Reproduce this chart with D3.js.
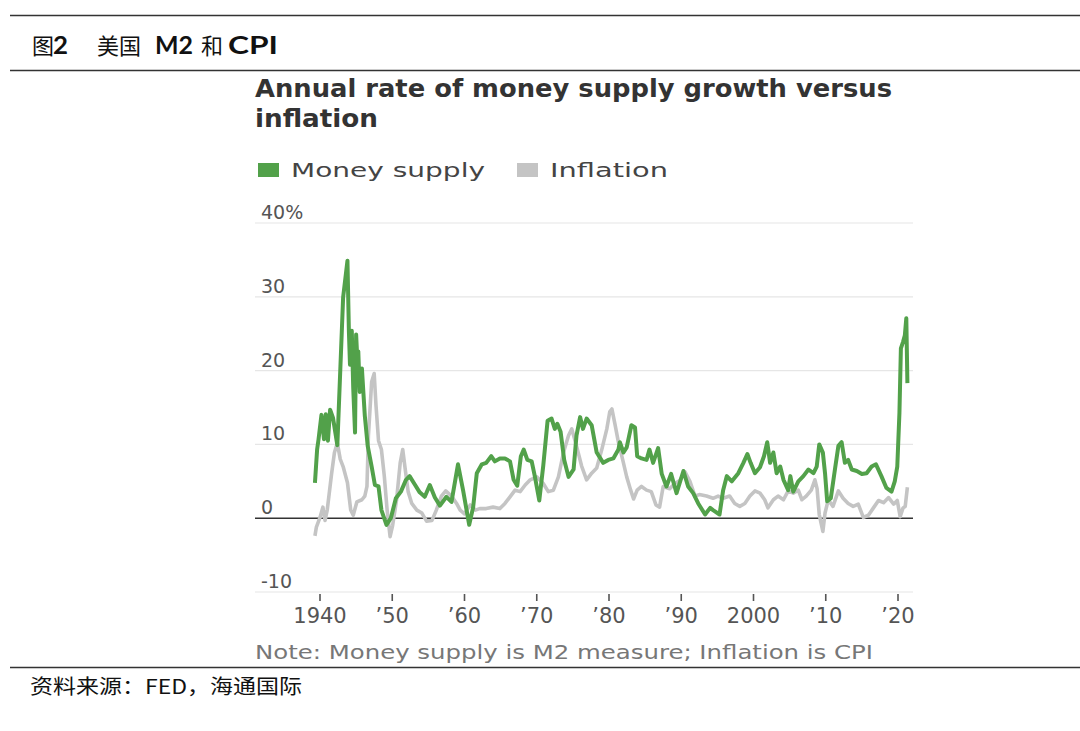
<!DOCTYPE html>
<html>
<head>
<meta charset="utf-8">
<script src="https://cdn.jsdelivr.net/npm/d3@7"></script>
<style>
	body { margin: 0; background: #fff; }
	svg { display: block; }
</style>
</head>
<body>
<svg width="1080" height="731"></svg>
<script>
// money supply (M2) growth, % y/y
var moneyYears = [1939.3, 1939.6, 1939.8, 1940.2, 1940.55, 1940.8, 1941.1, 1941.4, 1941.8, 1942.4,
	1943.2, 1943.8, 1944.0, 1944.15, 1944.4, 1944.6, 1944.85, 1945.0, 1945.2, 1945.3, 1945.5, 1945.8,
	1946.2, 1946.6, 1947.15, 1947.6, 1948.1, 1948.5, 1949.2, 1949.8, 1950.5, 1951.2, 1951.9, 1952.4,
	1953.1, 1953.8, 1954.5, 1955.2, 1955.9, 1956.6, 1957.5, 1958.2, 1959.1, 1959.8, 1960.65, 1961.2,
	1961.7, 1962.4, 1963.0, 1963.7, 1964.2, 1964.9, 1965.6, 1966.3, 1966.8, 1967.3, 1967.8, 1968.2,
	1968.7, 1969.3, 1969.75, 1970.35, 1970.9, 1971.5, 1972.05, 1972.5, 1972.85, 1973.3, 1973.8, 1974.4,
	1975.1, 1975.5, 1976.0, 1976.4, 1976.9, 1977.6, 1978.3, 1979.2, 1979.9, 1980.6, 1981.3, 1981.5,
	1982.0, 1982.45, 1983.1, 1983.6, 1983.9, 1984.5, 1985.2, 1985.6, 1986.1, 1986.8, 1987.3, 1987.95,
	1988.6, 1989.35, 1990.3, 1990.95, 1991.65, 1992.35, 1993.3, 1994.0, 1994.4, 1995.3, 1995.8, 1996.3,
	1997.0, 1997.9, 1998.6, 1999.15, 1999.6, 2000.2, 2000.9, 2001.45, 2001.9, 2002.3, 2002.75, 2003.2,
	2003.7, 2004.15, 2004.8, 2005.1, 2005.5, 2006.2, 2006.9, 2007.6, 2008.3, 2008.75, 2009.1, 2009.6,
	2009.9, 2010.2, 2010.7, 2011.3, 2011.75, 2012.2, 2012.65, 2013.1, 2013.6, 2014.3, 2015.0, 2015.65,
	2016.35, 2016.95, 2017.7, 2018.4, 2019.1, 2019.55, 2019.9, 2020.2, 2020.4, 2020.7, 2020.95, 2021.15,
	2021.3];
var moneyValues = [4.8, 9.3, 10.7, 14.0, 10.7, 14.1, 10.5, 14.7, 13.6, 9.9,
	29.9, 34.9, 25.3, 20.8, 25.4, 17.6, 11.6, 24.9, 20.8, 22.6, 17.1, 20.3,
	13.9, 9.8, 7.0, 4.5, 4.3, 1.1, -0.9, 0.0, 2.7, 3.6, 5.2, 5.7,
	4.6, 3.5, 2.9, 4.5, 2.8, 1.7, 2.9, 2.2, 7.3, 3.8, -0.9, 1.5,
	6.1, 7.3, 7.5, 8.4, 7.7, 8.1, 8.1, 7.7, 5.2, 4.4, 8.4, 9.3,
	7.9, 7.7, 5.6, 2.4, 7.1, 13.2, 13.5, 12.1, 12.8, 11.7, 7.9, 5.6,
	6.6, 11.2, 13.7, 12.1, 13.5, 12.6, 8.9, 7.5, 7.9, 8.1, 9.3, 10.3,
	8.9, 9.6, 12.6, 12.3, 8.4, 8.1, 7.9, 9.3, 7.5, 9.5, 6.0, 4.3,
	6.0, 3.4, 6.4, 4.3, 3.4, 2.0, 0.5, 1.4, 1.1, 0.5, 3.8, 5.7,
	5.0, 6.1, 7.5, 8.7, 7.5, 6.1, 6.9, 8.4, 10.3, 7.5, 8.9, 6.1,
	7.0, 5.2, 3.8, 5.7, 3.6, 5.0, 5.7, 6.6, 6.1, 7.0, 10.0, 8.9,
	6.1, 2.3, 2.7, 6.8, 9.8, 10.3, 7.5, 7.9, 6.6, 6.4, 6.0, 6.1,
	7.0, 7.3, 5.7, 4.1, 3.6, 5.0, 7.0, 14.3, 23.0, 23.9, 24.8, 27.1,
	18.3];

// inflation (CPI), % y/y
var cpiYears = [1939.3, 1939.5, 1940.0, 1940.4, 1940.7, 1941.0, 1941.6, 1942.0, 1942.4, 1942.8,
	1943.2, 1943.8, 1944.25, 1944.6, 1945.1, 1945.8, 1946.2, 1946.5, 1946.7, 1947.15, 1947.5, 1947.75,
	1948.1, 1948.5, 1948.9, 1949.3, 1949.7, 1950.05, 1950.6, 1951.1, 1951.45, 1951.8, 1952.2, 1952.7,
	1953.4, 1954.1, 1954.75, 1955.5, 1956.1, 1956.8, 1957.4, 1958.2, 1958.9, 1959.4, 1960.0, 1960.8,
	1961.5, 1962.1, 1963.0, 1963.95, 1964.9, 1965.6, 1966.3, 1967.0, 1967.7, 1968.4, 1969.1, 1970.0,
	1970.9, 1971.6, 1972.3, 1973.0, 1973.7, 1974.4, 1974.85, 1975.5, 1976.2, 1976.9, 1977.6, 1978.3,
	1979.0, 1979.7, 1980.1, 1980.4, 1980.85, 1981.3, 1981.9, 1982.45, 1983.0, 1983.4, 1983.9, 1984.5,
	1985.2, 1985.85, 1986.5, 1987.0, 1987.5, 1988.4, 1989.1, 1989.8, 1990.5, 1991.2, 1991.9, 1992.5,
	1993.5, 1994.4, 1995.1, 1995.8, 1996.7, 1997.4, 1998.1, 1998.8, 1999.5, 2000.2, 2000.9, 2001.55,
	2002.0, 2002.75, 2003.4, 2004.15, 2004.8, 2005.5, 2006.2, 2006.7, 2007.3, 2008.0, 2008.5, 2008.8,
	2009.1, 2009.6, 2009.9, 2010.35, 2011.0, 2011.75, 2012.4, 2013.1, 2013.8, 2014.5, 2015.2, 2015.9,
	2016.6, 2017.3, 2018.0, 2018.7, 2019.4, 2019.9, 2020.3, 2020.7, 2021.0, 2021.3];
var cpiValues = [-2.4, -1.2, 0.1, 1.5, -0.3, 1.1, 6.0, 8.9, 10.2, 8.0,
	7.0, 4.8, 1.1, 0.4, 2.2, 2.5, 3.0, 4.3, 11.2, 18.5, 19.6, 15.3,
	10.5, 9.3, 5.7, 1.0, -2.5, -1.0, 2.5, 7.5, 9.3, 6.6, 3.6, 2.0,
	1.1, 0.7, -0.4, -0.3, 1.1, 3.0, 3.7, 3.0, 2.0, 1.1, 0.6, 1.8,
	1.1, 1.3, 1.3, 1.5, 1.3, 2.0, 2.9, 3.8, 3.6, 4.5, 5.2, 5.6,
	4.7, 3.6, 3.8, 5.6, 8.9, 11.2, 12.1, 9.8, 7.1, 5.2, 6.1, 6.8,
	9.3, 12.1, 14.4, 14.8, 12.6, 10.3, 7.9, 5.6, 3.8, 2.6, 3.8, 4.3,
	3.8, 3.6, 1.8, 1.5, 4.3, 4.0, 4.7, 5.1, 6.3, 5.0, 3.0, 3.2,
	3.0, 2.7, 3.0, 2.7, 3.0, 2.0, 1.6, 2.0, 3.0, 3.7, 3.4, 2.5,
	1.4, 2.5, 3.0, 2.5, 3.7, 3.4, 3.8, 2.5, 3.0, 3.8, 5.2, 4.0,
	0.5, -1.8, 0.7, 2.5, 1.6, 3.7, 2.7, 2.0, 1.6, 1.9, 0.1, 0.4,
	1.4, 2.4, 2.1, 2.8, 1.9, 2.4, 0.2, 1.4, 1.6, 4.2];

var yTicks = [-10, 0, 10, 20, 30, 40];
var yTickLabels = ["-10", "0", "10", "20", "30", "40%"];
var xTicks = [1940, 1950, 1960, 1970, 1980, 1990, 2000, 2010, 2020];
var xTickLabels = ["1940", "\u201950", "\u201960", "\u201970", "\u201980", "\u201990", "2000", "\u201910", "\u201920"];

var GREEN = "#52a14a", GREY = "#c4c4c4";
var FONT = "'DejaVu Sans', sans-serif";
var CJK = "'Noto Sans CJK SC', sans-serif";
var LATIN = "Lato, sans-serif";

var svg = d3.select('svg');
var x = d3.scaleLinear().domain([1940, 2020]).range([320, 898]);
var y = d3.scaleLinear().domain([-10, 40]).range([592, 223]);
var left = 255, right = 913;

//helper: text stretched to a given width (the source font is very wide)
function fitText(sel, w) {
	return sel.attr('textLength', w).attr('lengthAdjust', 'spacingAndGlyphs');
}

// report header / footer rules
svg.selectAll('line.rule').data([15.5, 70.5, 667.5]).enter().append('line')
	.attr('class', 'rule')
	.attr('x1', 10).attr('x2', 1080)
	.attr('y1', function(d) {return d}).attr('y2', function(d) {return d})
	.attr('stroke', '#333').attr('stroke-width', 1.3);

// header pieces: [text, x, cjk?, width]
var headParts = [
	['图', 32, true], ['2', 53, false, 15], ['美国', 97, true],
	['M2', 155, false, 38], ['和', 201, true], ['CPI', 228, false, 50]
];
svg.selectAll('text.head').data(headParts).enter().append('text')
	.attr('class', 'head')
	.attr('x', function(d) {return d[1]}).attr('y', 54)
	.attr('fill', '#111')
	.attr('font-family', function(d) {return d[2] ? CJK : LATIN})
	.attr('font-weight', function(d) {return d[2] ? 400 : 700})
	.attr('font-size', function(d) {return d[2] ? 22 : 25})
	.text(function(d) {return d[0]})
	.each(function(d) {if (d[3]) fitText(d3.select(this), d[3])});

fitText(svg.append('text').attr('x', 30).attr('y', 694).attr('font-family', CJK)
	.attr('font-size', 20).attr('fill', '#111').text('资料来源：FED，海通国际'), 272);

// chart title
fitText(svg.append('text').attr('x', 255).attr('y', 97).attr('font-family', FONT).attr('font-weight', 700)
	.attr('font-size', 24).attr('fill', '#333').text('Annual rate of money supply growth versus'), 637);
fitText(svg.append('text').attr('x', 255).attr('y', 127).attr('font-family', FONT).attr('font-weight', 700)
	.attr('font-size', 24).attr('fill', '#333').text('inflation'), 123);

// legend
var legend = [
	{name: 'Money supply', color: GREEN, x: 258, w: 194},
	{name: 'Inflation', color: GREY, x: 517, w: 118}
];
var lg = svg.selectAll('g.legend').data(legend).enter().append('g').attr('class', 'legend');
lg.append('rect')
	.attr('x', function(d) {return d.x}).attr('y', 163)
	.attr('width', 21).attr('height', 14)
	.attr('fill', function(d) {return d.color});
lg.append('text')
	.attr('x', function(d) {return d.x + 33}).attr('y', 177)
	.attr('font-family', FONT).attr('font-size', 19).attr('fill', '#444')
	.text(function(d) {return d.name})
	.each(function(d) {fitText(d3.select(this), d.w)});

// grid + y labels
svg.selectAll('line.grid').data(yTicks).enter().append('line')
	.attr('class', 'grid')
	.attr('x1', left).attr('x2', right)
	.attr('y1', function(d) {return y(d)}).attr('y2', function(d) {return y(d)})
	.attr('stroke', function(d) {return d === 0 ? '#333' : '#e6e6e6'})
	.attr('stroke-width', function(d) {return d === 0 ? 1.4 : 1.2});
svg.selectAll('text.ylab').data(yTicks).enter().append('text')
	.attr('class', 'ylab')
	.attr('x', 261).attr('y', function(d) {return y(d) - 4})
	.attr('font-family', FONT).attr('font-size', 19).attr('fill', '#555')
	.text(function(d, i) {return yTickLabels[i]});

// x axis ticks
svg.selectAll('line.xtick').data(xTicks).enter().append('line')
	.attr('class', 'xtick')
	.attr('x1', function(d) {return x(d)}).attr('x2', function(d) {return x(d)})
	.attr('y1', y(-10) + 2).attr('y2', y(-10) + 9)
	.attr('stroke', '#555').attr('stroke-width', 1.6);
svg.selectAll('text.xlab').data(xTicks).enter().append('text')
	.attr('class', 'xlab')
	.attr('x', function(d) {return x(d)}).attr('y', 623)
	.attr('text-anchor', 'middle')
	.attr('font-family', FONT).attr('font-size', 21).attr('fill', '#555')
	.text(function(d, i) {return xTickLabels[i]});

// series
var line = d3.line()
	.x(function(d) {return x(d[0])})
	.y(function(d) {return y(d[1])});
var series = [
	{pts: d3.zip(cpiYears, cpiValues), color: GREY, w: 3.6},
	{pts: d3.zip(moneyYears, moneyValues), color: GREEN, w: 4}
];
svg.selectAll('path.series').data(series).enter().append('path')
	.attr('class', 'series')
	.attr('fill', 'none')
	.attr('stroke', function(s) {return s.color})
	.attr('stroke-width', function(s) {return s.w})
	.attr('stroke-linejoin', 'round')
	.attr('d', function(s) {return line(s.pts)});

// note
fitText(svg.append('text').attr('x', 255).attr('y', 659).attr('font-family', FONT)
	.attr('font-size', 19).attr('fill', '#777').text('Note: Money supply is M2 measure; Inflation is CPI'), 618);
</script>
</body>
</html>
